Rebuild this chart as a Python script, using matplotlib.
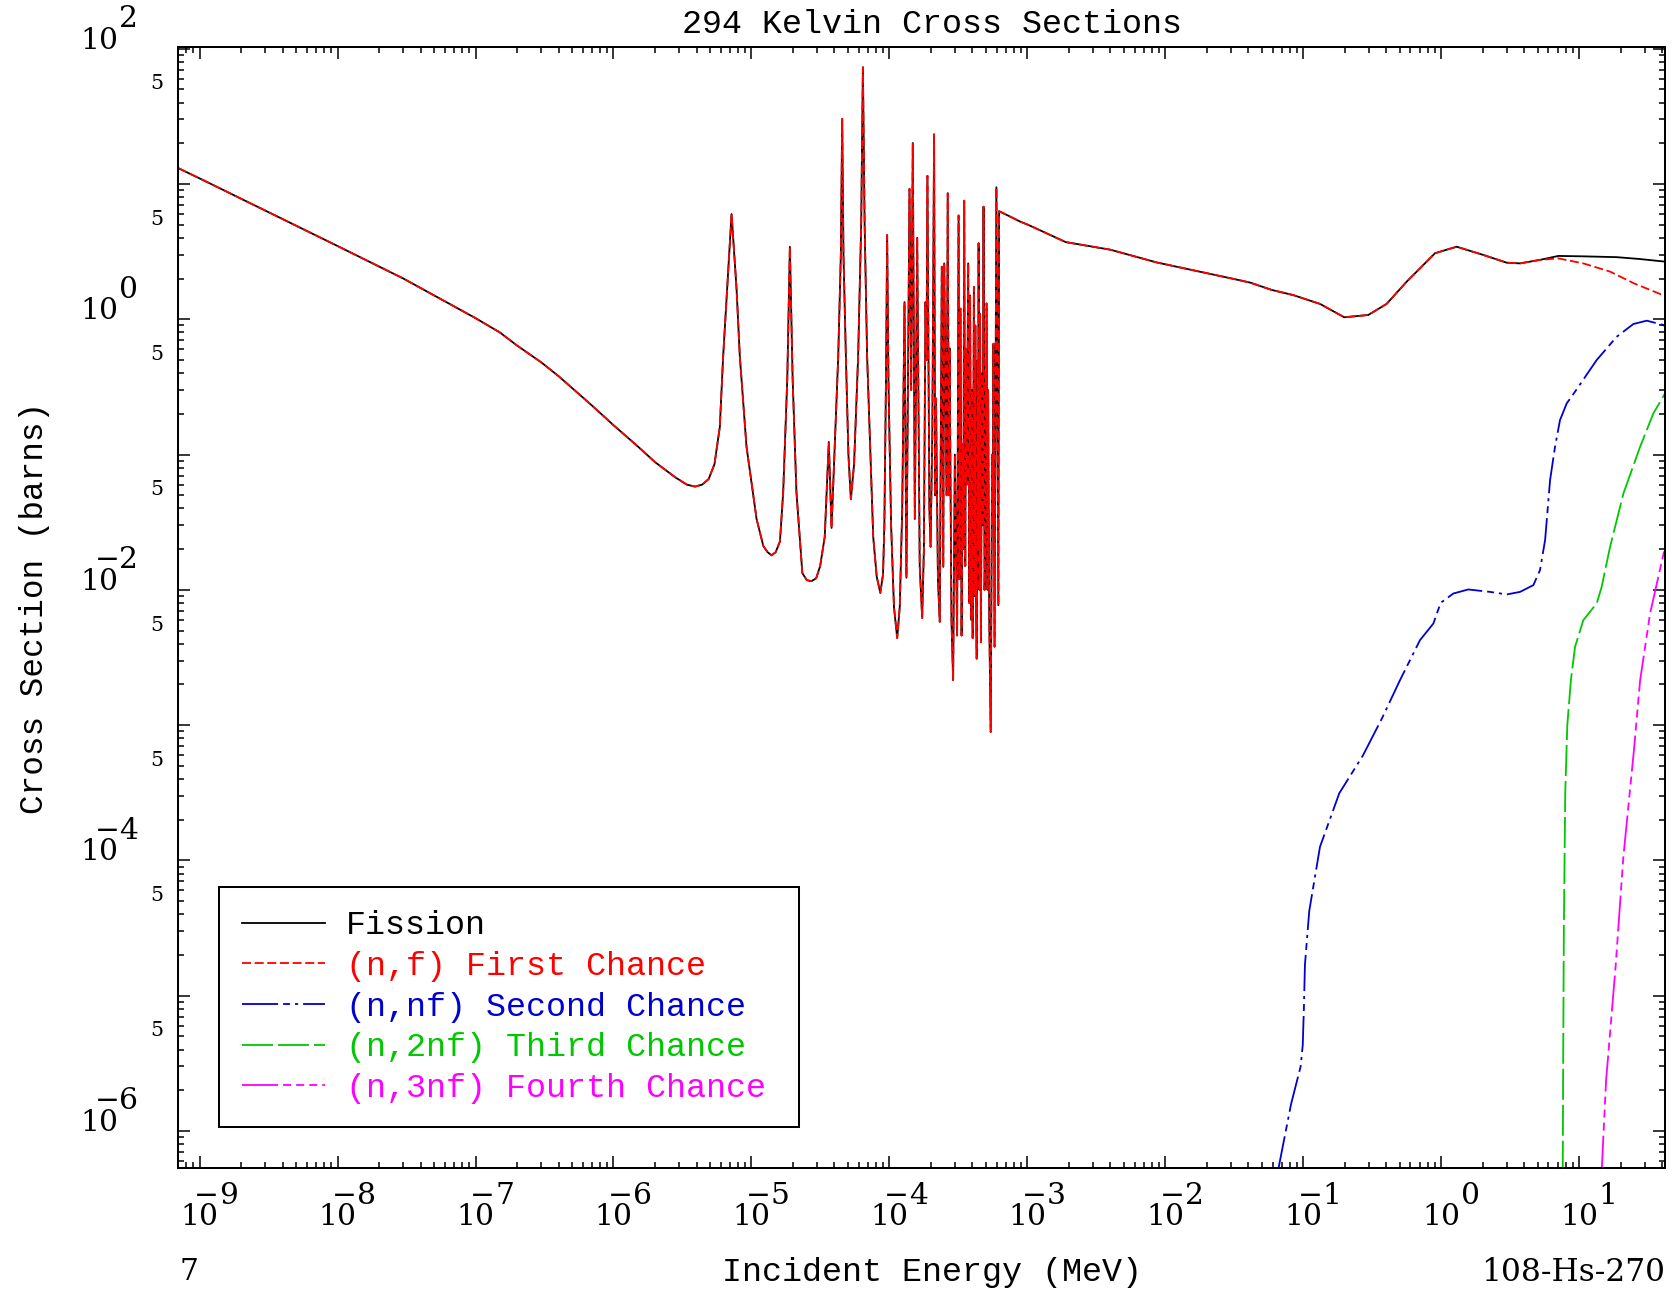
import numpy as np
import matplotlib
matplotlib.use("Agg")
import matplotlib.pyplot as plt
from matplotlib.ticker import LogLocator, NullFormatter

plt.rcParams['lines.scale_dashes'] = False

# ---------------- data ----------------
# shared part of total fission and first-chance fission (MeV, barns)
shared_E = [7.0e-10, 1.0e-9, 3.0e-9, 1.0e-8, 3.0e-8, 1.0e-7, 1.5e-7, 2.0e-7, 3.0e-7, 4.0e-7,
            7.0e-7, 1.0e-6, 1.5e-6, 2.0e-6, 2.8e-6, 3.4e-6, 3.9e-6, 4.4e-6, 4.9e-6, 5.4e-6,
            5.9e-6, 6.24e-6, 6.67e-6, 7.18e-6, 7.80e-6, 8.24e-6, 9.21e-6, 1.09e-5, 1.22e-5,
            1.31e-5, 1.40e-5, 1.50e-5, 1.61e-5, 1.70e-5, 1.82e-5, 1.90e-5, 1.99e-5, 2.12e-5,
            2.34e-5, 2.52e-5, 2.73e-5, 2.95e-5, 3.15e-5, 3.40e-5, 3.64e-5, 3.81e-5, 4.26e-5,
            4.45e-5, 4.55e-5, 4.65e-5, 4.84e-5, 5.05e-5, 5.26e-5, 5.55e-5, 5.94e-5, 6.25e-5,
            6.43e-5, 6.62e-5, 6.90e-5, 7.64e-5, 8.1e-5, 8.6e-5, 9.0e-5, 9.2e-5, 9.45e-5,
            9.64e-5, 9.85e-5, 1.03e-4, 1.08e-4, 1.14e-4, 1.19e-4, 1.24e-4, 1.288e-4, 1.33e-4,
            1.40e-4, 1.44e-4, 1.479e-4, 1.53e-4, 1.592e-4, 1.66e-4, 1.73e-4, 1.78e-4, 1.828e-4,
            1.86e-4, 1.888e-4, 1.95e-4, 1.99e-4, 2.05e-4, 2.11e-4, 2.15e-4, 2.18e-4, 2.25e-4,
            2.32e-4, 2.40e-4, 2.46e-4, 2.50e-4, 2.60e-4, 2.65e-4, 2.70e-4, 2.735e-4, 2.82e-4,
            2.90e-4, 2.985e-4, 3.10e-4, 3.177e-4, 3.22e-4, 3.28e-4, 3.34e-4, 3.40e-4, 3.44e-4,
            3.49e-4, 3.55e-4, 3.60e-4, 3.64e-4, 3.73e-4, 3.80e-4, 3.85e-4, 3.93e-4, 3.97e-4,
            4.02e-4, 4.10e-4, 4.16e-4, 4.20e-4, 4.26e-4, 4.30e-4, 4.37e-4, 4.40e-4, 4.44e-4,
            4.49e-4, 4.55e-4, 4.61e-4, 4.70e-4, 4.75e-4, 4.82e-4, 4.90e-4, 4.98e-4, 5.07e-4,
            5.15e-4, 5.20e-4, 5.30e-4, 5.43e-4, 5.56e-4, 5.62e-4, 5.69e-4, 5.79e-4, 5.97e-4,
            6.17e-4, 6.25e-4, 8.9e-4, 1.02e-3, 1.46e-3, 1.9e-3, 4.0e-3, 8.7e-3, 3.05e-2,
            4.11e-2, 5.9e-2, 8.47e-2, 0.1324, 0.1986, 0.2965, 0.4027, 0.5636, 0.9036, 1.297,
            2.023, 2.992, 3.733, 5.212]
shared_sig = [13.1, 11.0, 6.35, 3.48, 2.0, 1.02, 0.80, 0.64, 0.48, 0.38,
              0.23, 0.165, 0.115, 0.088, 0.068, 0.060, 0.058, 0.060, 0.066, 0.085,
              0.16, 0.533, 1.69, 6.0, 1.69, 0.533, 0.115, 0.0334, 0.0211,
              0.0190, 0.018, 0.019, 0.0228, 0.053, 0.363, 3.43, 0.363, 0.053,
              0.0133, 0.0118, 0.0116, 0.0122, 0.0150, 0.0246, 0.124, 0.0287, 0.533,
              3.0, 30.3, 3.0, 0.533, 0.10, 0.0467, 0.085, 0.533, 5.0,
              73.0, 5.0, 0.533, 0.0246, 0.0125, 0.0095, 0.013, 0.03, 0.35,
              4.2, 0.35, 0.03, 0.0075, 0.0044, 0.0075, 0.04, 1.34, 0.0123,
              9.2, 0.3, 20.1, 0.0334, 4.0, 0.015, 0.0062, 0.02, 1.34,
              0.5, 11.5, 0.04, 0.0208, 0.15, 23.3, 0.05, 0.26, 0.012,
              0.0058, 2.45, 0.0148, 2.59, 0.05, 8.55, 0.05, 0.61, 0.006,
              0.00215, 0.1, 0.0046, 5.85, 0.012, 1.2, 0.0046, 0.12, 0.02,
              7.53, 0.015, 0.6, 0.06, 2.59, 0.008, 1.5, 0.006, 0.3,
              0.0044, 1.74, 0.009, 0.9, 0.007, 0.0031, 0.5, 0.02, 3.65,
              0.01, 1.1, 0.0041, 0.4, 0.03, 6.8, 0.01, 0.02, 1.31,
              0.01, 0.3, 0.006, 0.00089, 0.1, 0.03, 0.66, 0.0038, 9.46,
              0.0077, 6.3, 5.27, 4.98, 4.21, 3.72, 3.27, 2.63, 2.0,
              1.87, 1.65, 1.51, 1.30, 1.035, 1.076, 1.30, 1.90, 3.08, 3.44,
              2.99, 2.62, 2.59, 2.75]

fission_tail_E = [7.079, 10.74, 18.75, 27.54, 41.8]
fission_tail_sig = [2.94, 2.92, 2.88, 2.79, 2.67]

first_tail_E = [7.079, 10.74, 16.83, 24.83, 41.8]
first_tail_sig = [2.82, 2.59, 2.25, 1.85, 1.49]

second_E = [0.0655, 0.0817, 0.0959, 0.0993, 0.1012, 0.103, 0.1107, 0.1324, 0.1828,
            0.271, 0.3733, 0.5035, 0.7031, 0.879, 0.993, 1.227, 1.574, 2.265, 2.992,
            3.733, 4.667, 5.212, 5.675, 6.166, 6.699, 7.278, 8.147, 9.354, 13.43,
            18.75, 24.77, 30.97, 40.93, 41.8]
second_sig = [5.0e-7, 1.58e-6, 3.0e-6, 4.31e-6, 8.0e-6, 1.69e-5, 4.23e-5, 1.26e-4, 3.14e-4,
              5.96e-4, 1.127e-3, 2.15e-3, 4.25e-3, 5.64e-3, 8.02e-3, 9.4e-3, 1.007e-2,
              9.66e-3, 9.25e-3, 9.66e-3, 1.084e-2, 1.40e-2, 2.33e-2, 6.47e-2, 0.1143,
              0.1799, 0.2393, 0.2917, 0.5, 0.743, 0.923, 0.977, 0.908, 0.89]

third_E = [7.62, 7.674, 7.762, 7.943, 8.222, 8.73, 9.354, 10.74, 13.43, 14.59, 16.79,
           20.99, 27.73, 34.59, 42.07]
third_sig = [5.0e-7, 3.16e-6, 3.16e-5, 3.16e-4, 1.0e-3, 2.15e-3, 3.79e-3, 5.97e-3,
             7.93e-3, 1.052e-2, 2.08e-2, 5.16e-2, 0.1143, 0.2018, 0.2838]

fourth_E = [14.59, 15.7, 18.45, 20.94, 25.0, 27.73, 32.73, 42.07]
fourth_sig = [5.0e-7, 2.34e-6, 1.69e-5, 1.05e-4, 6.52e-4, 2.15e-3, 6.68e-3, 2.08e-2]

labels = ["Fission", "(n,f) First Chance", "(n,nf) Second Chance",
          "(n,2nf) Third Chance", "(n,3nf) Fourth Chance"]

x_label_exponents = [-9, -8, -7, -6, -5, -4, -3, -2, -1, 0, 1]
y_label_exponents = [2, 0, -2, -4, -6]
y_five_values = [50, 5, 0.5, 0.05, 5e-3, 5e-4, 5e-5, 5e-6]

# ---------------- figure ----------------
W, H = 1680, 1299
PX = 100 / 72.0  # pixels per point
fig = plt.figure(figsize=(W / 100, H / 100), dpi=100)
ax = fig.add_axes([178.3 / W, 1 - 1168.3 / H, (1665 - 178.3) / W, (1168.3 - 47) / H])
ax.set_xscale('log')
ax.set_yscale('log')
ax.set_xlim(7.0e-10, 42)
ax.set_ylim(5.3e-7, 103)

lw = 1.3
ax.plot(shared_E + fission_tail_E, shared_sig + fission_tail_sig, color='black',
        lw=lw, ls='-', label=labels[0])
ax.plot(shared_E + first_tail_E, shared_sig + first_tail_sig, color='#FF0000',
        lw=lw, ls=(0, (6.5, 2.6)), label=labels[1])
ax.plot(second_E, second_sig, color='#0000D0', lw=lw,
        ls=(0, (26, 3.6, 5, 3.6, 2.2, 3.6)), label=labels[2])
ax.plot(third_E, third_sig, color='#00C800', lw=lw,
        ls=(0, (22.3, 3.6)), label=labels[3])
ax.plot(fourth_E, fourth_sig, color='#FF00FF', lw=lw,
        ls=(0, (26, 3.6, 5.8, 3.6, 5.8, 3.6, 5.8, 3.6)), label=labels[4])

# ticks
for axis in (ax.xaxis, ax.yaxis):
    axis.set_major_locator(LogLocator(base=10, subs=(1.0,), numticks=60))
    axis.set_minor_locator(LogLocator(base=10, subs=np.arange(2, 10), numticks=200))
    axis.set_major_formatter(NullFormatter())
    axis.set_minor_formatter(NullFormatter())
ax.tick_params(which='both', direction='in', top=True, right=True, width=1.1, color='black')
ax.tick_params(which='major', length=8.6)
ax.tick_params(which='minor', length=4.6)
for sp in ax.spines.values():
    sp.set_linewidth(1.45)

TF = 'DejaVu Serif'
TS = 21.4
sup = 21.7 / PX
# x tick labels
for e in x_label_exponents:
    v = 10.0 ** e
    ax.annotate('10', xy=(v, 0), xycoords=('data', 'axes fraction'),
                xytext=(0, -57 / PX), textcoords='offset points',
                ha='center', va='baseline', fontsize=TS, family=TF, annotation_clip=False)
    ax.annotate(str(abs(e)), xy=(v, 0), xycoords=('data', 'axes fraction'),
                xytext=(19.5 / PX, -57 / PX + sup), textcoords='offset points',
                ha='left', va='baseline', fontsize=TS, family=TF, annotation_clip=False)
    if e < 0:
        ax.annotate('\u2212', xy=(v, 0), xycoords=('data', 'axes fraction'),
                    xytext=(19.5 / PX, -57 / PX + sup), textcoords='offset points',
                    ha='right', va='baseline', fontsize=TS, family=TF, annotation_clip=False)
# y tick labels
for e in y_label_exponents:
    v = 10.0 ** e
    ax.annotate('10', xy=(0, v), xycoords=('axes fraction', 'data'),
                xytext=(-60 / PX, 0), textcoords='offset points',
                ha='right', va='baseline', fontsize=TS, family=TF, annotation_clip=False)
    ax.annotate(str(abs(e)), xy=(0, v), xycoords=('axes fraction', 'data'),
                xytext=(-59 / PX, sup), textcoords='offset points',
                ha='left', va='baseline', fontsize=TS, family=TF, annotation_clip=False)
    if e < 0:
        ax.annotate('\u2212', xy=(0, v), xycoords=('axes fraction', 'data'),
                    xytext=(-59 / PX, sup), textcoords='offset points',
                    ha='right', va='baseline', fontsize=TS, family=TF, annotation_clip=False)
for v in y_five_values:
    ax.annotate('5', xy=(0, v), xycoords=('axes fraction', 'data'),
                xytext=(-14.5 / PX, 0), textcoords='offset points',
                ha='right', va='baseline', fontsize=14.8, family=TF, annotation_clip=False)

MF = 'Liberation Mono'
fig.text(932 / W, 1 - 33 / H, '294 Kelvin Cross Sections', ha='center', va='baseline',
         fontsize=24, family=MF)
fig.text(932 / W, 1 - 1281 / H, 'Incident Energy (MeV)', ha='center', va='baseline',
         fontsize=24, family=MF)
fig.text(43 / W, 1 - 607.5 / H, 'Cross Section (barns)', rotation=90, rotation_mode='anchor',
         ha='center', va='baseline', fontsize=23.5, family=MF)
fig.text(180 / W, 1 - 1280 / H, '7', ha='left', va='baseline', fontsize=TS, family=TF)
fig.text(1665 / W, 1 - 1281 / H, '108-Hs-270', ha='right', va='baseline', fontsize=22.5, family=TF)

# legend
axw = 1665 - 178.3
axh = 1168.3 - 47
FSL = 24
fpx = FSL * PX
leg = ax.legend(loc='lower left', mode='expand',
                bbox_to_anchor=((219 - 178.3) / axw, (1168.3 - 1127.3) / axh,
                                (799 - 219) / axw, (1127.3 - 882.7) / axh),
                borderaxespad=0, prop={'family': MF, 'size': FSL},
                handlelength=82.4 / fpx, handletextpad=21.6 / fpx, borderpad=0.7,
                labelspacing=0.29, fancybox=False, framealpha=1, edgecolor='black',
                labelcolor='linecolor')
leg.get_frame().set_linewidth(1.45)

fig.savefig('out.png', dpi=100)
